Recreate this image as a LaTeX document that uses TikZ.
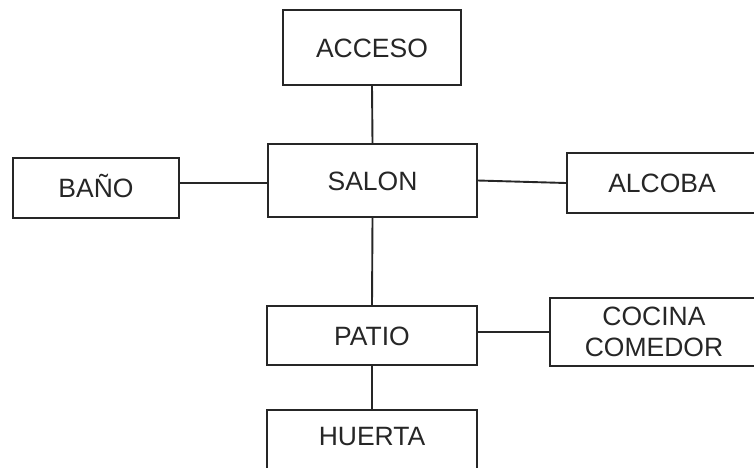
\documentclass[tikz,border=0pt]{standalone}
\usepackage{fontspec}
\setmainfont{Liberation Sans}
\begin{document}
\begin{tikzpicture}[x=1pt,y=1pt,
  room/.style={draw=black!85, line width=1.9pt, inner sep=0pt, text=black!85,
    font=\fontsize{26.5}{31}\selectfont, text height=19pt, text depth=0pt},
  link/.style={draw=black!85, line width=1.9pt}]
\useasboundingbox (0,0) rectangle (754,-467);
\clip (0,0) rectangle (754,-467);
\node[room, minimum width=178pt, minimum height=75pt] (acceso) at (372,-47.5) {ACCESO};
\node[room, minimum width=209pt, minimum height=73pt] (salon) at (372.5,-180.5) {SALON};
\node[room, minimum width=166pt, minimum height=60pt] (bano) at (96,-188) {BAÑO};
\node[room, minimum width=190pt, minimum height=60pt] (alcoba) at (662,-183) {ALCOBA};
\node[room, minimum width=210pt, minimum height=59pt] (patio) at (372,-335.5) {PATIO};
\node[room, minimum width=208pt, minimum height=68pt, align=center, text height=, text depth=] (cocina) at (654,-332) {COCINA\\COMEDOR};
\node[room, minimum width=210pt, text height=35.5pt, text depth=40pt, anchor=base] (huerta) at (372,-445.5) {HUERTA};
\draw[link] (acceso.south) -- (salon.north);
\draw[link] ([yshift=5pt]bano.east) -- ([yshift=5pt]bano.east -| salon.west);
\draw[link] (salon.east) -- (alcoba.west);
\draw[link] (salon.south) -- (patio.north);
\draw[link] (cocina.west -| patio.east) -- (cocina.west);
\draw[link] (patio.south) -- (huerta.north);
\end{tikzpicture}
\end{document}
